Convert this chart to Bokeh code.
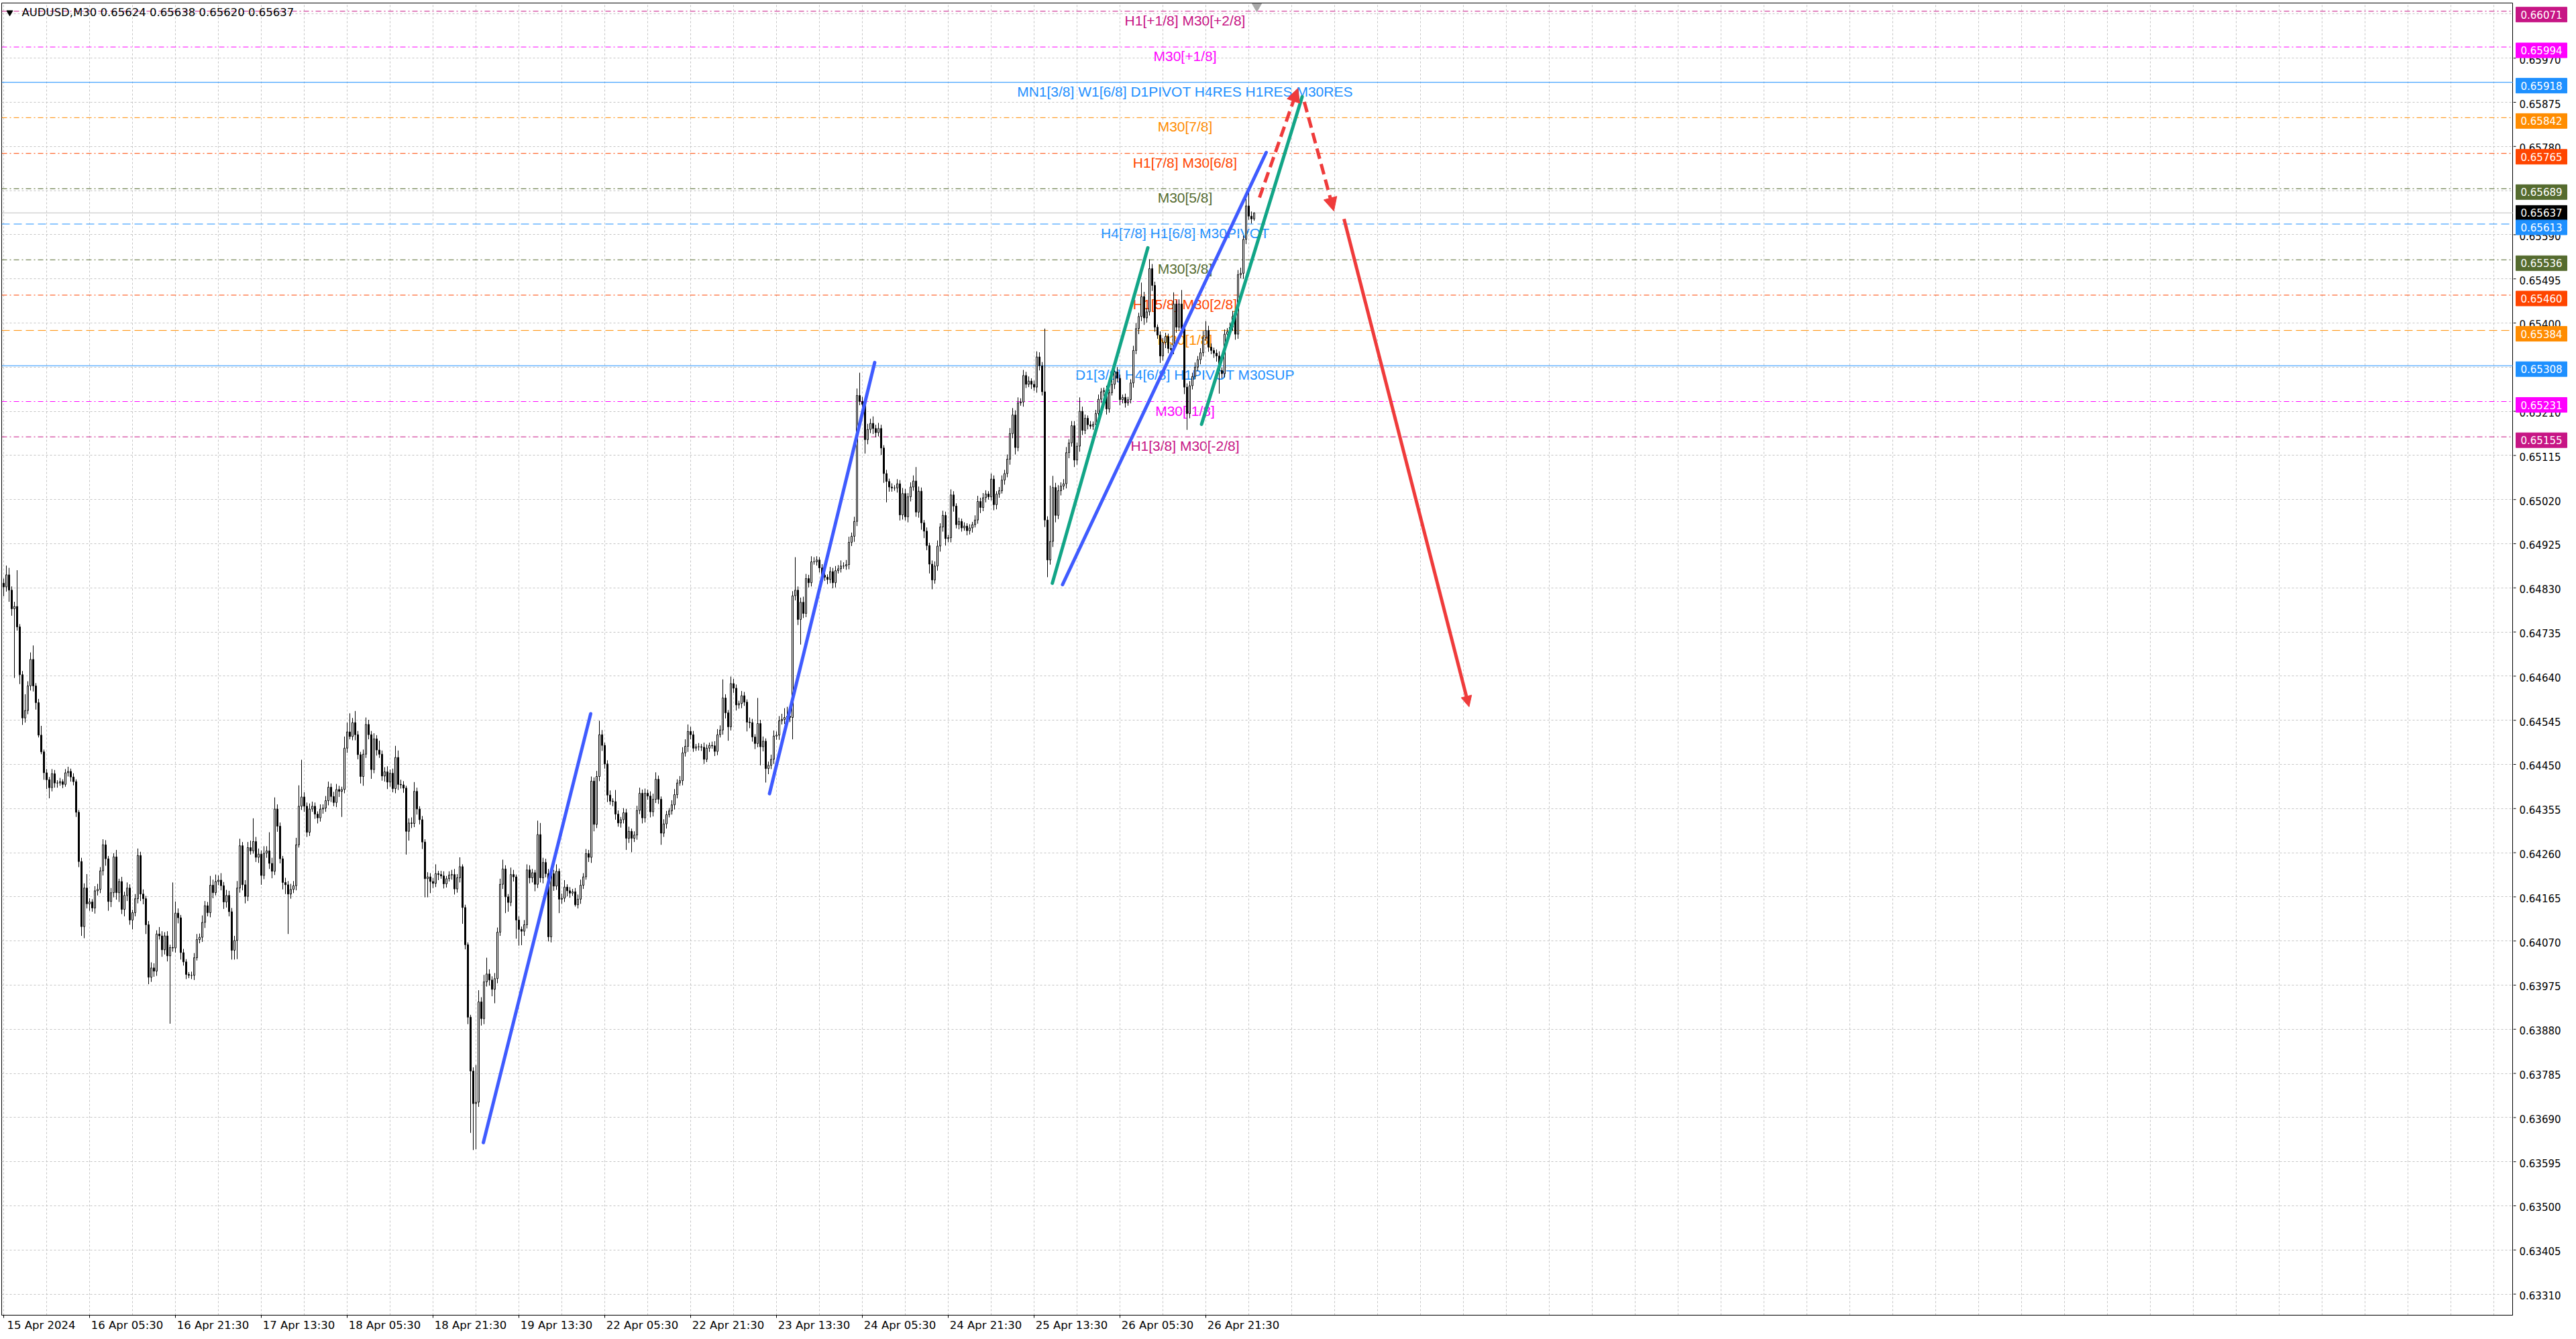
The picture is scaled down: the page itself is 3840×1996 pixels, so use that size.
import numpy as np
from bokeh.plotting import figure
from bokeh.layouts import row
from bokeh.models import (Range1d, FixedTicker, Label, Span, Arrow, NormalHead,
                          ColumnDataSource, Grid, LinearAxis)
from bokeh.core.properties import value
from bokeh.embed import file_html
from bokeh.resources import INLINE

# ---------------- data ----------------
symbol = "AUDUSD"
timeframe = "M30"
last_ohlc = ["0.65624", "0.65638", "0.65620", "0.65637"]

first_open_pts = 64840
# closes in 1e-5 price units, one per M30 bar
close_pts = [
    64832, 64858, 64825, 64785, 64790, 64746, 64643, 64550, 64566, 64619, 64676, 64619, 64583, 64513, 64477, 64432, 64417, 64400, 64430, 64410,
    64410, 64413, 64407, 64432, 64435, 64423, 64413, 64347, 64241, 64101, 64184, 64150, 64154, 64141, 64178, 64181, 64221, 64277, 64247, 64155,
    64174, 64251, 64174, 64198, 64138, 64168, 64184, 64115, 64131, 64161, 64254, 64171, 64161, 64105, 63992, 64012, 64005, 64085, 64081, 64051,
    64081, 64038, 64056, 64055, 64130, 64120, 64045, 64025, 63998, 63996, 63996, 64034, 64073, 64078, 64110, 64146, 64131, 64190, 64174, 64198,
    64201, 64189, 64154, 64168, 64133, 64050, 64071, 64184, 64275, 64191, 64166, 64271, 64264, 64284, 64250, 64257, 64211, 64259, 64264, 64237,
    64220, 64354, 64317, 64247, 64196, 64191, 64171, 64181, 64189, 64277, 64360, 64380, 64360, 64304, 64354, 64360, 64343, 64335, 64354, 64356,
    64372, 64401, 64381, 64368, 64396, 64392, 64396, 64485, 64520, 64510, 64540, 64514, 64471, 64424, 64472, 64536, 64514, 64439, 64505, 64481,
    64472, 64425, 64434, 64412, 64431, 64398, 64465, 64407, 64406, 64399, 64306, 64324, 64323, 64392, 64354, 64331, 64283, 64204, 64208, 64198,
    64194, 64215, 64213, 64210, 64193, 64204, 64212, 64213, 64182, 64206, 64230, 64142, 64062, 63906, 63790, 63720, 63723, 63939, 63903, 63982,
    63999, 63986, 63966, 63989, 64089, 64192, 64225, 64165, 64153, 64213, 64208, 64115, 64095, 64091, 64105, 64223, 64206, 64217, 64192, 64299,
    64206, 64239, 64215, 64079, 64215, 64188, 64220, 64160, 64162, 64186, 64178, 64173, 64176, 64148, 64160, 64190, 64208, 64258, 64250, 64414,
    64321, 64424, 64514, 64491, 64451, 64384, 64371, 64370, 64343, 64324, 64331, 64346, 64291, 64306, 64291, 64298, 64351, 64388, 64335, 64388,
    64382, 64348, 64375, 64418, 64375, 64302, 64322, 64342, 64350, 64363, 64385, 64410, 64415, 64475, 64489, 64521, 64514, 64485, 64488, 64488,
    64487, 64461, 64485, 64491, 64490, 64478, 64514, 64524, 64593, 64561, 64531, 64624, 64614, 64578, 64581, 64598, 64584, 64541, 64540, 64509,
    64495, 64538, 64488, 64500, 64441, 64448, 64461, 64511, 64513, 64544, 64547, 64551, 64554, 64551, 64813, 64825, 64762, 64799, 64775, 64850,
    64841, 64886, 64886, 64890, 64873, 64857, 64853, 64848, 64865, 64841, 64867, 64871, 64877, 64877, 64880, 64928, 64941, 64973, 65244, 65231,
    65225, 65149, 65171, 65184, 65173, 65164, 65173, 65131, 65076, 65059, 65047, 65045, 65045, 65054, 64987, 65033, 64983, 65026, 65047, 65060,
    64993, 65038, 64970, 64952, 64921, 64881, 64847, 64877, 64920, 64961, 64986, 64936, 64938, 65030, 65006, 64966, 64973, 64959, 64963, 64953,
    64959, 64966, 64976, 65016, 65003, 65024, 65032, 65026, 65064, 65009, 65032, 65039, 65062, 65076, 65107, 65162, 65202, 65132, 65228, 65230,
    65287, 65268, 65275, 65268, 65262, 65327, 65308, 65252, 64976, 64890, 64930, 65046, 64986, 65039, 65049, 65054, 65121, 65142, 65179, 65105,
    65135, 65210, 65169, 65195, 65181, 65178, 65182, 65205, 65236, 65252, 65255, 65215, 65250, 65268, 65295, 65281, 65235, 65240, 65228, 65235,
    65271, 65341, 65388, 65414, 65457, 65411, 65424, 65517, 65481, 65391, 65374, 65329, 65358, 65371, 65345, 65343, 65441, 65391, 65441, 65388,
    65262, 65205, 65265, 65285, 65305, 65321, 65336, 65368, 65384, 65348, 65341, 65335, 65329, 65298, 65291, 65376, 65381, 65391, 65414, 65376,
    65504, 65507, 65580, 65652, 65630, 65624, 65637,
]
upper_wick_pts = [
    10, 20, 15, 8, 10, 78, 6, 8, 35, 10, 15, 30, 6, 8, 20, 5, 8, 6, 10, 8,
    6, 8, 5, 8, 10, 6, 8, 5, 5, 8, 10, 30, 8, 6, 10, 12, 8, 12, 10, 6,
    10, 8, 15, 6, 10, 8, 12, 8, 6, 10, 15, 8, 10, 6, 8, 12, 10, 8, 15, 10,
    8, 10, 6, 140, 25, 10, 6, 8, 6, 5, 8, 10, 12, 8, 15, 10, 8, 20, 12, 15,
    10, 15, 8, 12, 10, 8, 10, 15, 15, 8, 10, 12, 15, 50, 10, 12, 8, 15, 10, 40,
    12, 25, 10, 8, 6, 10, 8, 12, 10, 15, 45, 80, 10, 8, 12, 10, 8, 6, 10, 8,
    10, 12, 8, 10, 12, 8, 6, 25, 20, 40, 10, 25, 8, 6, 10, 15, 10, 8, 12, 8,
    20, 8, 10, 12, 8, 10, 25, 15, 10, 8, 5, 10, 12, 20, 8, 6, 8, 6, 10, 8,
    8, 20, 6, 8, 10, 6, 8, 10, 12, 8, 20, 5, 6, 5, 5, 8, 80, 25, 10, 15,
    35, 10, 8, 12, 10, 12, 20, 8, 6, 15, 10, 5, 8, 6, 10, 12, 10, 8, 6, 30,
    25, 10, 8, 10, 12, 8, 15, 6, 10, 15, 6, 8, 6, 8, 10, 12, 8, 10, 8, 10,
    8, 12, 30, 10, 6, 8, 10, 6, 25, 8, 6, 10, 8, 10, 6, 8, 10, 12, 8, 10,
    8, 10, 12, 15, 8, 6, 10, 8, 6, 10, 12, 8, 10, 12, 15, 15, 10, 8, 6, 8,
    6, 10, 8, 6, 8, 10, 12, 10, 40, 8, 6, 15, 10, 8, 6, 10, 8, 6, 10, 8,
    6, 55, 8, 10, 6, 8, 10, 12, 8, 10, 12, 20, 20, 10, 10, 71, 8, 10, 12, 10,
    8, 12, 10, 8, 6, 8, 10, 6, 10, 8, 10, 8, 12, 8, 10, 12, 8, 10, 15, 49,
    10, 8, 12, 10, 15, 8, 12, 8, 6, 8, 6, 8, 6, 10, 8, 12, 10, 8, 10, 12,
    30, 10, 8, 6, 8, 6, 8, 10, 12, 8, 10, 8, 6, 12, 8, 6, 8, 6, 8, 6,
    8, 6, 10, 12, 8, 10, 8, 6, 12, 8, 6, 8, 10, 8, 10, 12, 15, 10, 12, 8,
    12, 8, 10, 6, 8, 12, 10, 8, 136, 8, 120, 25, 10, 12, 8, 10, 12, 8, 10, 10,
    8, 30, 10, 8, 6, 8, 6, 8, 10, 8, 6, 10, 8, 10, 12, 10, 8, 6, 8, 6,
    8, 10, 12, 8, 30, 10, 8, 20, 10, 8, 6, 8, 10, 8, 6, 10, 25, 8, 10, 30,
    10, 8, 10, 8, 10, 8, 10, 15, 20, 10, 8, 6, 8, 10, 6, 10, 8, 10, 12, 8,
    10, 12, 8, 20, 30, 10, 1,
]
lower_wick_pts = [
    20, 10, 25, 15, 149, 8, 20, 15, 10, 8, 10, 12, 15, 5, 5, 15, 20, 23, 8, 10,
    10, 6, 8, 5, 8, 10, 8, 10, 12, 20, 25, 10, 15, 8, 12, 10, 8, 10, 15, 20,
    12, 10, 15, 20, 10, 15, 12, 10, 20, 8, 10, 15, 12, 20, 15, 10, 12, 10, 8, 15,
    10, 12, 146, 8, 10, 12, 15, 8, 10, 6, 8, 10, 6, 8, 10, 12, 8, 10, 12, 6,
    8, 10, 15, 12, 10, 20, 20, 40, 10, 12, 15, 10, 8, 6, 10, 12, 20, 8, 10, 12,
    15, 8, 12, 10, 15, 20, 86, 10, 8, 10, 6, 8, 12, 10, 8, 6, 10, 12, 8, 10,
    8, 10, 12, 8, 10, 12, 55, 8, 10, 6, 8, 12, 10, 15, 20, 8, 10, 20, 8, 12,
    8, 10, 12, 15, 10, 8, 10, 12, 8, 10, 50, 20, 10, 8, 12, 10, 15, 40, 40, 25,
    10, 8, 12, 6, 10, 8, 6, 10, 12, 8, 10, 35, 10, 15, 133, 100, 98, 10, 15, 12,
    10, 12, 15, 30, 10, 8, 10, 35, 20, 8, 10, 40, 35, 30, 10, 8, 12, 10, 15, 8,
    10, 12, 8, 10, 12, 10, 8, 30, 10, 8, 12, 10, 6, 4, 8, 10, 8, 6, 10, 12,
    15, 8, 10, 12, 10, 15, 8, 10, 12, 8, 10, 8, 25, 10, 30, 8, 10, 8, 12, 10,
    8, 12, 10, 8, 10, 25, 8, 10, 6, 8, 10, 8, 6, 10, 8, 12, 10, 8, 6, 8,
    8, 10, 6, 8, 6, 10, 8, 6, 10, 12, 30, 8, 10, 12, 8, 10, 8, 20, 12, 10,
    12, 8, 40, 10, 30, 12, 8, 10, 8, 10, 8, 10, 12, 10, 47, 10, 12, 54, 10, 8,
    10, 8, 6, 8, 10, 12, 8, 10, 8, 12, 10, 6, 8, 6, 8, 10, 8, 12, 10, 8,
    10, 30, 10, 8, 12, 10, 8, 15, 20, 45, 10, 8, 6, 10, 12, 10, 8, 12, 10, 8,
    10, 12, 15, 15, 10, 20, 20, 8, 10, 12, 10, 15, 8, 10, 12, 8, 10, 8, 6, 10,
    8, 10, 6, 8, 12, 8, 10, 6, 8, 12, 10, 8, 6, 10, 8, 12, 10, 15, 8, 6,
    10, 8, 6, 10, 8, 12, 10, 8, 15, 37, 10, 12, 15, 8, 10, 8, 10, 12, 8, 15,
    10, 12, 10, 8, 10, 6, 8, 10, 12, 8, 10, 12, 8, 6, 10, 8, 12, 8, 10, 6,
    8, 10, 8, 12, 10, 15, 10, 8, 12, 10, 8, 15, 10, 12, 10, 8, 10, 12, 8, 10,
    15, 35, 10, 8, 6, 8, 10, 8, 6, 10, 8, 10, 12, 50, 10, 8, 6, 10, 8, 12,
    10, 8, 12, 10, 8, 10, 4,
]

x_tick_bars = [0, 32, 64, 96, 128, 160, 192, 224, 256, 288, 320, 352, 384, 416, 448]
x_tick_labels = ["15 Apr 2024", "16 Apr 05:30", "16 Apr 21:30", "17 Apr 13:30", "18 Apr 05:30",
                 "18 Apr 21:30", "19 Apr 13:30", "22 Apr 05:30", "22 Apr 21:30", "23 Apr 13:30",
                 "24 Apr 05:30", "24 Apr 21:30", "25 Apr 13:30", "26 Apr 05:30", "26 Apr 21:30"]

price_grid_labels = ["0.63310", "0.63405", "0.63500", "0.63595", "0.63690", "0.63785", "0.63880",
                     "0.63975", "0.64070", "0.64165", "0.64260", "0.64355", "0.64450", "0.64545",
                     "0.64640", "0.64735", "0.64830", "0.64925", "0.65020", "0.65115", "0.65210",
                     "0.65305", "0.65400", "0.65495", "0.65590", "0.65685", "0.65780", "0.65875",
                     "0.65970", "0.66065"]
price_hidden_labels = ["0.65305", "0.65685", "0.66065"]

levels = [0.66071, 0.65994, 0.65918, 0.65842, 0.65765, 0.65689, 0.65613,
          0.65536, 0.65460, 0.65384, 0.65308, 0.65231, 0.65155]
level_names = ["H1[+1/8] M30[+2/8]", "M30[+1/8]", "MN1[3/8] W1[6/8] D1PIVOT H4RES H1RES M30RES",
               "M30[7/8]", "H1[7/8] M30[6/8]", "M30[5/8]", "H4[7/8] H1[6/8] M30PIVOT",
               "M30[3/8]", "H1[5/8] M30[2/8]", "M30[1/8]", "D1[3/8] H4[6/8] H1PIVOT M30SUP",
               "M30[-1/8]", "H1[3/8] M30[-2/8]"]
level_colors = ["#C71585", "#FF00FF", "#1E90FF", "#FF8C00", "#FF4500", "#556B2F", "#1E90FF",
                "#556B2F", "#FF4500", "#FF8C00", "#1E90FF", "#FF00FF", "#C71585"]
level_styles = ["dashdot", "dashdot", "solid", "dashdot", "dashdot", "dashdot", "dashed",
                "dashdot", "dashdot", "dashed", "solid", "dashdot", "dashdot"]
current_price = 0.65637

# trend lines (bar index, price)
blue_x0 = [178.75, 285.4, 394.6]
blue_y0 = [0.63636, 0.64387, 0.64837]
blue_x1 = [218.75, 324.6, 470.5]
blue_y1 = [0.64559, 0.65315, 0.65767]
green_x0 = [390.8, 446.4]
green_y0 = [0.64840, 0.65182]
green_x1 = [426.4, 483.9]
green_y1 = [0.65562, 0.65887]
red_dash_x0 = [468.0, 484.7]
red_dash_y0 = [0.65670, 0.65876]
red_dash_x1 = [482.3, 495.7]
red_dash_y1 = [0.65905, 0.65641]
red_solid_x0 = [499.5]
red_solid_y0 = [0.65624]
red_solid_x1 = [546.1]
red_solid_y1 = [0.64574]

# ---------------- derived ----------------
n = min(len(close_pts), len(upper_wick_pts), len(lower_wick_pts))
cl = np.array(close_pts[:n]) / 1e5
op = np.concatenate([[first_open_pts], close_pts[:n - 1]]) / 1e5
op[-1] = float(last_ohlc[0])
hi = np.maximum(op, cl) + np.array(upper_wick_pts[:n]) / 1e5
lo = np.minimum(op, cl) - np.array(lower_wick_pts[:n]) / 1e5
idx = np.arange(n)

# layout: screen pixel -> bar / price
BAR_PX, BAR0_PX = 4.0, 5.0          # bar i sits at x = 5 + 4 i
PRICE_PX, REF_Y, REF_P = 69263.0, 152.0, 0.65875
def bar_at(px):
    return (px - BAR0_PX) / BAR_PX
def price_at(py):
    return REF_P - (py - REF_Y) / PRICE_PX

LEFT, TOP, BOTTOM = 2, 4, 28
MAIN_W, SIDE_W, H = 3746, 86, 1988
FRAME_RIGHT = MAIN_W
FRAME_BOTTOM = H - BOTTOM
X0, X1 = bar_at(LEFT), bar_at(FRAME_RIGHT)
Y0, Y1 = price_at(FRAME_BOTTOM), price_at(TOP)
PY = 1.0 / PRICE_PX

p = figure(width=MAIN_W, height=H, x_range=Range1d(X0, X1), y_range=Range1d(Y0, Y1),
           output_backend="svg", toolbar_location=None, y_axis_location=None,
           min_border_left=LEFT, min_border_top=TOP, min_border_right=0, min_border_bottom=BOTTOM,
           outline_line_color="black", outline_line_width=1,
           background_fill_color="white", border_fill_color="white")

for g in p.grid:
    g.visible = False
p.add_layout(Grid(dimension=0, ticker=FixedTicker(ticks=list(range(0, 936, 16))),
                  grid_line_color="#C4C4C4", grid_line_dash="3 3", grid_line_width=1))
p.add_layout(Grid(dimension=1, ticker=FixedTicker(ticks=[float(s) for s in price_grid_labels]),
                  grid_line_color="#C4C4C4", grid_line_dash="3 3", grid_line_width=1))

# time axis: tick marks at the bars, labels drawn left-aligned from each tick
xax = p.xaxis[0]
xax.ticker = FixedTicker(ticks=x_tick_bars)
xax.major_label_overrides = {b: "" for b in x_tick_bars}
xax.major_label_text_font_size = "1px"
xax.major_label_standoff = 0
xax.major_tick_in = 0
xax.major_tick_out = 4
xax.minor_tick_line_color = None
xax.axis_line_color = "black"

LABEL_SHIFT = 14  # bars: half a label width, so text starts at its tick
lab_ax = LinearAxis(ticker=FixedTicker(ticks=[b + LABEL_SHIFT for b in x_tick_bars]),
                    major_label_overrides={b + LABEL_SHIFT: t for b, t in zip(x_tick_bars, x_tick_labels)},
                    major_label_text_font="DejaVu Sans", major_label_text_font_size="16.5px",
                    major_label_text_color="black", major_label_standoff=1,
                    major_tick_in=0, major_tick_out=0, minor_tick_line_color=None,
                    major_tick_line_color=None, axis_line_color=None)
p.add_layout(lab_ax, "below")

dash_map = {"dashdot": "8 4 2 4", "dashed": "12 6", "solid": "solid"}
for lv, col, st in zip(levels, level_colors, level_styles):
    p.add_layout(Span(location=lv, dimension="width", line_color=col, line_width=1,
                      line_dash=dash_map[st], level="underlay"))
p.add_layout(Span(location=current_price, dimension="width", line_color="#C0C0C0",
                  line_width=1, level="underlay"))

lvl_src = ColumnDataSource(dict(x=[bar_at(1766)] * len(levels),
                                y=[lv - 2 * PY for lv in levels],
                                text=level_names, color=level_colors))
tr = p.text(x="x", y="y", text="text", source=lvl_src, text_color="color",
            text_font=value("Liberation Sans"), text_font_size="21px",
            text_align="center", text_baseline="top")
tr.level = "underlay"

# candles
p.segment(x0=idx, y0=lo, x1=idx, y1=hi, line_color="black", line_width=1)
up = cl >= op
dn = ~up
p.vbar(x=idx[up], width=0.5, top=cl[up], bottom=op[up], fill_color="white",
       line_color="black", line_width=1)
p.vbar(x=idx[dn], width=0.5, top=op[dn], bottom=cl[dn], fill_color="black",
       line_color="black", line_width=1)

# trend lines
p.segment(x0=blue_x0, y0=blue_y0, x1=blue_x1, y1=blue_y1, line_color="#3F5BFF",
          line_width=5, line_cap="round")
p.segment(x0=green_x0, y0=green_y0, x1=green_x1, y1=green_y1, line_color="#12A587",
          line_width=5, line_cap="round")

RED = "#EF3B3B"
for xs, ys, xe, ye in zip(red_dash_x0, red_dash_y0, red_dash_x1, red_dash_y1):
    p.add_layout(Arrow(x_start=xs, y_start=ys, x_end=xe, y_end=ye, line_color=RED,
                       line_width=5, line_dash="16 8",
                       end=NormalHead(size=20, fill_color=RED, line_color=RED, line_width=1)))
for xs, ys, xe, ye in zip(red_solid_x0, red_solid_y0, red_solid_x1, red_solid_y1):
    p.add_layout(Arrow(x_start=xs, y_start=ys, x_end=xe, y_end=ye, line_color=RED,
                       line_width=5,
                       end=NormalHead(size=16, fill_color=RED, line_color=RED, line_width=1)))

# chart-shift marker & title
p.scatter(x=[n], y=[price_at(9)], marker="inverted_triangle", size=14,
          fill_color="#A8A8A8", line_color="#A8A8A8")
p.scatter(x=[bar_at(14)], y=[price_at(18)], marker="inverted_triangle", size=9,
          fill_color="black", line_color="black")
title_text = f"{symbol},{timeframe} " + " ".join(last_ohlc)
p.add_layout(Label(x=bar_at(32), y=price_at(18), text=title_text, text_font="DejaVu Sans",
                   text_font_size="16.5px", text_color="black", text_baseline="middle",
                   text_align="left"))

# ---------------- right price scale ----------------
q = figure(width=SIDE_W, height=H, x_range=Range1d(0, SIDE_W), y_range=p.y_range,
           output_backend="svg", toolbar_location=None, x_axis_location=None,
           y_axis_location=None, min_border_left=0, min_border_top=TOP, min_border_right=0,
           min_border_bottom=BOTTOM, outline_line_color=None,
           background_fill_color="white", border_fill_color="white")
for g in q.grid:
    g.visible = False

tick_vals = [float(s) for s in price_grid_labels if s not in price_hidden_labels]
tick_txt = [s for s in price_grid_labels if s not in price_hidden_labels]
q.segment(x0=[0] * len(tick_vals), y0=tick_vals, x1=[4] * len(tick_vals), y1=tick_vals,
          line_color="black", line_width=1)
q.text(x=[9] * len(tick_vals), y=[v - 2 * PY for v in tick_vals], text=tick_txt,
       text_font=value("DejaVu Sans"), text_font_size="15px", text_color="black",
       text_baseline="middle", text_align="left")

# price tags: level tags sit just under their line, the current-price tag is centred on it
box_prices = levels[:6] + [current_price] + levels[6:]
box_colors = level_colors[:6] + ["black"] + level_colors[6:]
box_centres = [pr - (0 if pr == current_price else 5) * PY for pr in box_prices]
box_src = ColumnDataSource(dict(left=[4] * len(box_prices), right=[80] * len(box_prices),
                                top=[c + 11 * PY for c in box_centres],
                                bottom=[c - 11 * PY for c in box_centres],
                                color=box_colors, y=box_centres,
                                text=[f"{pr:.5f}" for pr in box_prices],
                                x=[42] * len(box_prices)))
q.quad(left="left", right="right", top="top", bottom="bottom", source=box_src,
       fill_color="color", line_color="color")
q.text(x="x", y="y", text="text", source=box_src, text_font=value("DejaVu Sans"),
       text_font_size="15px", text_color="white", text_baseline="middle", text_align="center")

layout = row(p, q)
open("out.html", "w").write(file_html(layout, INLINE))
